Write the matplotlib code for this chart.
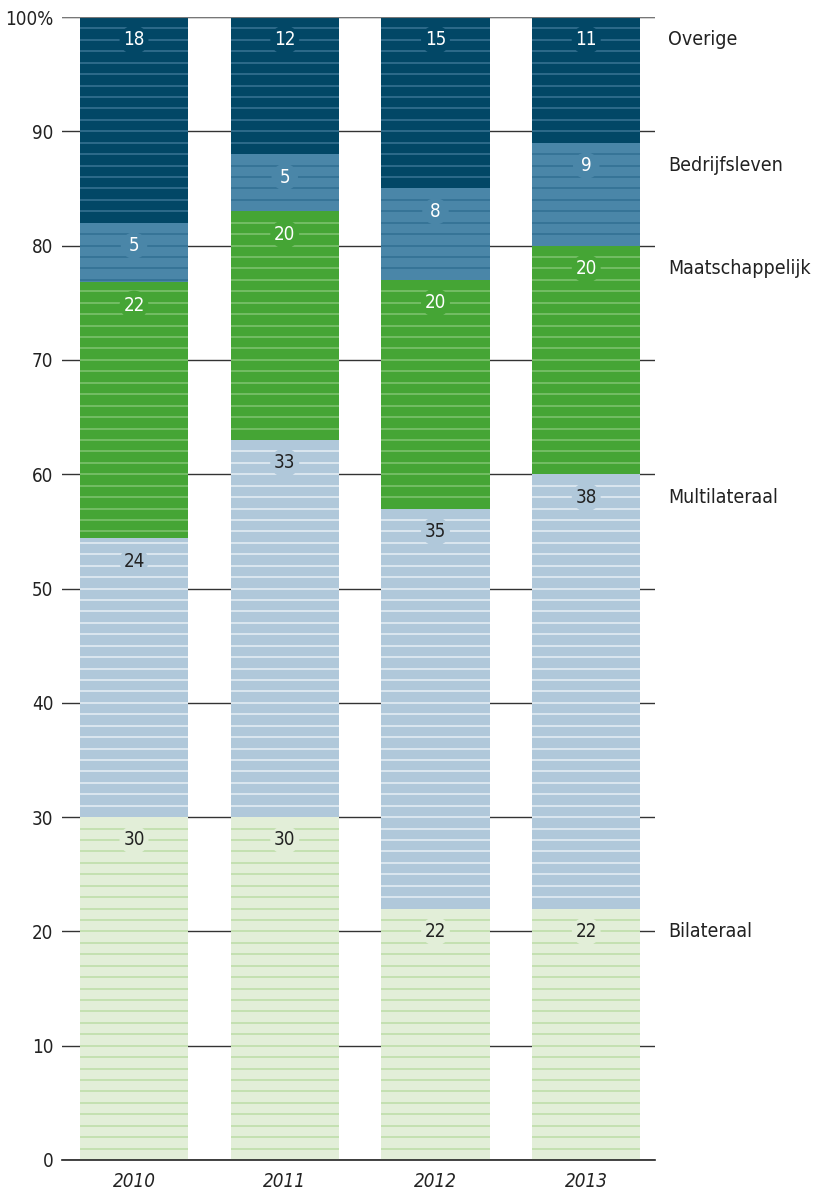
import numpy as np
import matplotlib.pyplot as plt

years = ["2010", "2011", "2012", "2013"]
categories = ["Bilateraal", "Multilateraal", "Maatschappelijk", "Bedrijfsleven", "Overige"]
bilateraal = [30.0, 30, 22, 22]
multilateraal = [24.4, 33, 35, 38]
maatschappelijk = [22.4, 20, 20, 20]
bedrijfsleven = [5.2, 5, 8, 9]
overige = [18.0, 12, 15, 11]

series = [bilateraal, multilateraal, maatschappelijk, bedrijfsleven, overige]
colors = ["#e2eed8", "#b0c8da", "#45a535", "#4a86a8", "#024766"]
stripe_colors = ["#bcdca6", "#e6eef5", "#80c472", "#316f92", "#3a7494"]
text_colors = ["#222222", "#222222", "white", "white", "white"]

plt.rcParams["font.family"] = ["DejaVu Sans"]
plt.rcParams["font.stretch"] = "condensed"

fig = plt.figure(figsize=(8.15, 11.93), dpi=100)
ax = fig.add_axes([0.076, 0.0277, 0.728, 0.958])

x = np.arange(len(years))
width = 0.717
bottom = np.zeros(len(years))

for vals, col, scol, tcol in zip(series, colors, stripe_colors, text_colors):
    vals = np.array(vals, dtype=float)
    ax.bar(x, vals, width, bottom=bottom, color=col, zorder=2, linewidth=0)
    for i in range(len(years)):
        lo, hi = bottom[i], bottom[i] + vals[i]
        for k in range(int(np.floor(lo)) + 1, int(np.ceil(hi))):
            ax.hlines(k, x[i] - width / 2, x[i] + width / 2, color=scol, lw=1.1, zorder=3)
        ax.text(x[i], hi - 2, f"{vals[i]:.0f}", ha="center", va="center", fontsize=13.5,
                color=tcol, zorder=5,
                bbox=dict(boxstyle="circle,pad=0.2", fc=col, ec="none"))
    bottom += vals

# category labels at the right, next to the last bar
last = np.cumsum([s[-1] for s in series])
for name, top in zip(categories, last):
    ax.text(1.022, top - 2, name, transform=ax.get_yaxis_transform(), ha="left",
            va="center", fontsize=14, color="#222222")

ax.set_xlim(-0.478, 3.458)
ax.set_ylim(0, 100)
ax.set_yticks(range(0, 101, 10))
ax.set_yticklabels([str(v) for v in range(0, 100, 10)] + ["100%"])
ax.set_xticks(x)
ax.set_xticklabels(years, fontstyle="italic")
ax.tick_params(axis="both", length=0, labelsize=13.5, colors="#222222")
ax.tick_params(axis="y", pad=6)
ax.tick_params(axis="x", pad=9)
ax.grid(axis="y", color="#333333", lw=1, zorder=0)
ax.set_axisbelow(True)
ax.axhline(100, color="#777777", lw=1.5, zorder=4)
for side in ["left", "right", "top"]:
    ax.spines[side].set_visible(False)
ax.spines["bottom"].set_color("#222222")
ax.spines["bottom"].set_linewidth(1.2)

fig.savefig("out.png", dpi=100)
